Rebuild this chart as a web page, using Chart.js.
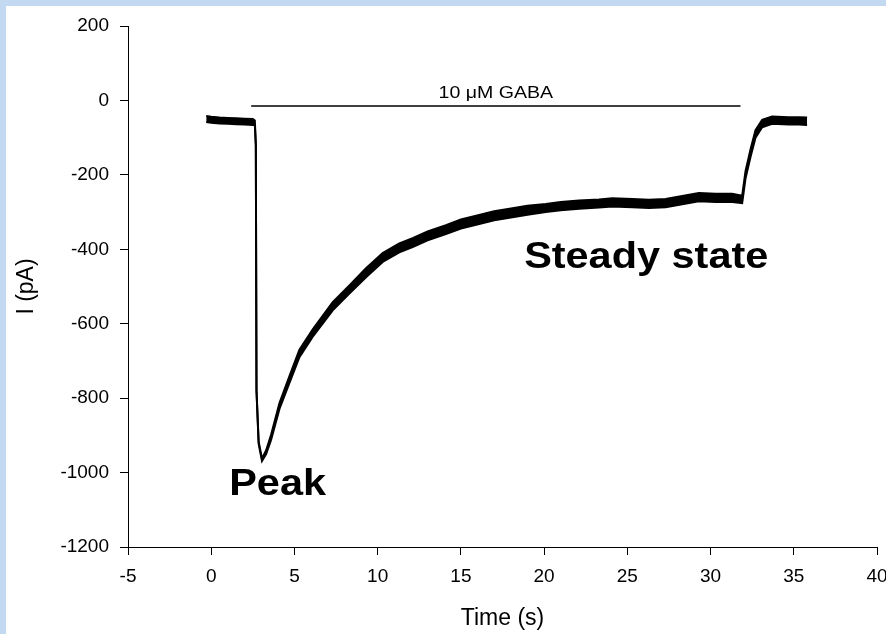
<!DOCTYPE html>
<html>
<head>
<meta charset="utf-8">
<script src="https://cdn.jsdelivr.net/npm/chart.js@4"></script>
<style>
  html, body { margin: 0; padding: 0; background: #c3d9f1; }
  body { width: 886px; height: 634px; position: relative; overflow: hidden; }
  #wrap { position: absolute; left: 6px; top: 6px; width: 880px; height: 628px; background: #fff; }
</style>
</head>
<body>
<div id="wrap"><canvas id="trace" width="880" height="628"></canvas></div>
<script>
// ── Data (time in s, current in pA) ───────────────────────────────────────
// the trace is a noisy band, so keep its upper and lower edges
const times = [
  -0.3, 0.0, 0.5, 1.0, 1.5, 2.0, 2.5, 2.62, 2.68, 2.72, 2.85, 3.05, 3.3, 3.6,
  4.1, 4.7, 5.3, 6.1, 7.3, 8.3, 9.3, 10.3, 11.3, 12.1, 13.0, 14.1, 15.0, 16.1,
  17.0, 18.1, 19.0, 20.1, 21.0, 22.1, 23.3, 24.1, 25.3, 26.3, 27.3, 28.3, 29.3,
  30.3, 31.3, 31.9, 32.1, 32.4, 32.7, 33.1, 33.7, 34.7, 35.3, 35.8
];
const upperEdge = [
  -42, -44, -46, -47, -48, -49, -50, -54, -118, -778, -917, -963, -940, -898,
  -813, -741, -670, -615, -542, -497, -451, -410, -384, -370, -352, -335, -320, -308,
  -298, -290, -283, -278, -273, -269, -266, -263, -265, -267, -265, -257, -249,
  -251, -251, -256, -190, -132, -80, -52, -43, -45, -45, -46
];
const lowerEdge = [
  -58, -60, -62, -63, -64, -65, -66, -66, -122, -782, -923, -969, -950, -912,
  -829, -759, -690, -635, -564, -519, -475, -434, -408, -394, -376, -359, -344, -332,
  -322, -314, -307, -300, -295, -291, -288, -285, -287, -289, -287, -279, -271,
  -273, -273, -276, -210, -152, -100, -72, -63, -65, -65, -66
];

// drug application bar
const gabaTimes = [2.4, 31.8];
const gabaLevel = -15;

const xTicks = [-5, 0, 5, 10, 15, 20, 25, 30, 35, 40];
const yTicks = [-1200, -1000, -800, -600, -400, -200, 0, 200];

const FONT = '"Liberation Sans", Arial, Helvetica, sans-serif';

// ── Text annotations ──────────────────────────────────────────────────────
const notes = [
  { text: 'Peak',         x: 1.08, y: -1061 },
  { text: 'Steady state', x: 18.8, y: -449 },
];

const annotate = {
  id: 'annotate',
  afterDatasetsDraw(chart) {
    const { ctx, scales: { x, y } } = chart;
    ctx.save();
    ctx.fillStyle = '#000';
    ctx.textBaseline = 'alphabetic';

    // bold labels (reference is slightly wide)
    ctx.font = 'bold 37px ' + FONT;
    ctx.textAlign = 'left';
    notes.forEach(n => {
      ctx.save();
      ctx.translate(x.getPixelForValue(n.x), y.getPixelForValue(n.y));
      ctx.scale(1.12, 1);
      ctx.fillText(n.text, 0, 0);
      ctx.restore();
    });

    // label over the GABA bar
    const midX = (x.getPixelForValue(gabaTimes[0]) + x.getPixelForValue(gabaTimes[1])) / 2;
    const barY = y.getPixelForValue(gabaLevel);
    ctx.font = '17px ' + FONT;
    ctx.textAlign = 'center';
    ctx.save();
    ctx.translate(midX, barY - 8);
    ctx.scale(1.15, 1);
    ctx.fillText('10 \u03BCM GABA', 0, 0);
    ctx.restore();
    ctx.restore();
  }
};

const toPts = ys => times.map((t, i) => ({ x: t, y: ys[i] }));

new Chart(document.getElementById('trace'), {
  type: 'line',
  data: {
    datasets: [
      {
        data: toPts(upperEdge),
        borderColor: '#000',
        backgroundColor: '#000',
        borderWidth: 2,
        pointRadius: 0,
        fill: '+1',
        tension: 0,
      },
      {
        data: toPts(lowerEdge),
        borderColor: '#000',
        borderWidth: 2,
        pointRadius: 0,
        fill: false,
        tension: 0,
      },
      {
        data: gabaTimes.map(t => ({ x: t, y: gabaLevel })),
        borderColor: '#000',
        borderWidth: 1.5,
        pointRadius: 0,
        fill: false,
      },
    ]
  },
  options: {
    responsive: false,
    animation: false,
    devicePixelRatio: 1,
    layout: { padding: { top: 20, right: 9, left: 0, bottom: 0 } },
    plugins: { legend: { display: false }, tooltip: { enabled: false } },
    scales: {
      x: {
        type: 'linear',
        min: -5, max: 40,
        afterBuildTicks: s => { s.ticks = xTicks.map(v => ({ value: v })); },
        afterFit: s => { s.height = 87; s.paddingLeft = 0; s.paddingRight = 0; },
        grid: { drawOnChartArea: false, drawTicks: true, tickLength: 8, color: '#000' },
        border: { display: true, color: '#000', width: 1 },
        ticks: { color: '#000', font: { family: FONT, size: 19 }, padding: 10, maxRotation: 0,
                 callback: v => String(v) },
        title: { display: true, text: 'Time (s)', color: '#000',
                 font: { family: FONT, size: 23 }, padding: { top: 0, bottom: 2 } },
      },
      y: {
        type: 'linear',
        min: -1200, max: 200,
        afterBuildTicks: s => { s.ticks = yTicks.map(v => ({ value: v })); },
        afterFit: s => { s.width = 122; s.paddingTop = 0; s.paddingBottom = 0; },
        grid: { drawOnChartArea: false, drawTicks: true, tickLength: 8, color: '#000' },
        border: { display: true, color: '#000', width: 1 },
        ticks: { color: '#000', font: { family: FONT, size: 19 }, padding: 11,
                 callback: v => String(v) },
        title: { display: true, text: 'I (pA)', color: '#000',
                 font: { family: FONT, size: 23 }, padding: { top: 7, bottom: 0 } },
      }
    }
  },
  plugins: [annotate]
});
</script>
</body>
</html>
